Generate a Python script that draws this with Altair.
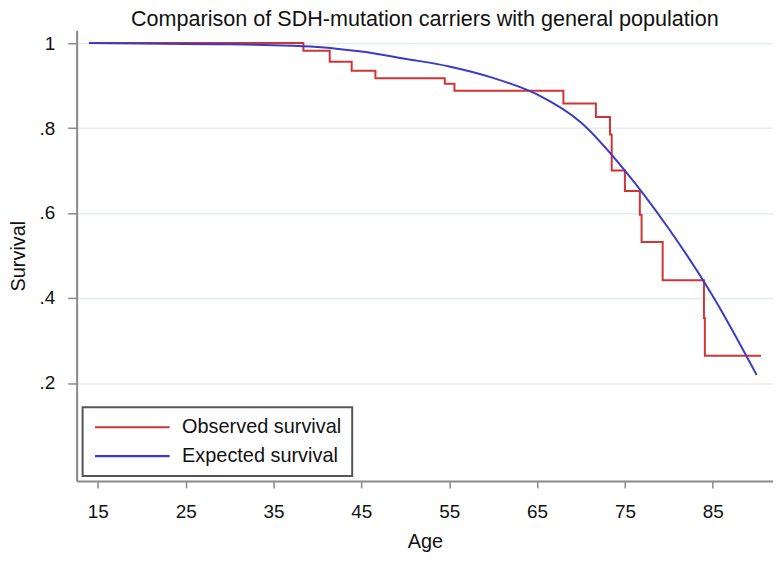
import altair as alt
import pandas as pd

# Observed (Kaplan-Meier style step) survival
obs_age = [14, 38.4, 41.4, 43.9, 46.6, 54.5, 55.6, 68.0, 71.7, 73.3, 73.5, 75.0,
           76.7, 76.9, 79.3, 84.0, 84.1, 90.5]
obs_surv = [1.0, 0.982, 0.956, 0.935, 0.917, 0.904, 0.888, 0.858, 0.826, 0.785,
            0.700, 0.652, 0.596, 0.532, 0.442, 0.353, 0.264, 0.264]

# Expected survival (general population)
exp_age = [14, 20, 25, 30, 35, 40, 45, 50, 55, 60, 65, 70, 75, 80, 85, 90]
exp_surv = [1.0, 0.999, 0.998, 0.997, 0.995, 0.991, 0.980, 0.963, 0.945, 0.918,
            0.879, 0.813, 0.700, 0.563, 0.405, 0.219]

series = ["Observed survival", "Expected survival"]
colors = ["#d03535", "#3a3ac8"]

x_ticks = [15, 25, 35, 45, 55, 65, 75, 85]
y_ticks = [0.2, 0.4, 0.6, 0.8, 1.0]

FONT = "Liberation Sans"

df_obs = pd.DataFrame({"age": obs_age, "surv": obs_surv, "series": series[0]})
df_exp = pd.DataFrame({"age": exp_age, "surv": exp_surv, "series": series[1]})

x_enc = alt.X(
    "age:Q",
    scale=alt.Scale(domain=[12.59, 91.86], nice=False, zero=False),
    axis=alt.Axis(
        values=x_ticks, title="Age", grid=False,
        domainColor="#8a8a8a", domainWidth=2,
        tickColor="#8a8a8a", tickWidth=1.5, tickSize=7,
        labelPadding=15, labelFontSize=19, labelFont=FONT, labelColor="#111",
        titleFontSize=20, titleFont=FONT, titleFontWeight="normal", titleColor="#111",
        titleX=350, titleY=67, titleAlign="center", titleBaseline="alphabetic",
    ),
)
y_enc = alt.Y(
    "surv:Q",
    scale=alt.Scale(domain=[-0.0305, 1.030], nice=False, zero=False),
    axis=alt.Axis(
        values=y_ticks, title="Survival", grid=True,
        gridColor="#e4edf1", gridWidth=1.5,
        labelExpr="datum.value == 1 ? '1' : substring(format(datum.value, '.1f'), 1)",
        domainColor="#8a8a8a", domainWidth=2,
        tickColor="#8a8a8a", tickWidth=1.5, tickSize=9,
        labelPadding=13, labelFontSize=19, labelFont=FONT, labelColor="#111",
        labelBaseline="middle",
        titleFontSize=20, titleFont=FONT, titleFontWeight="normal", titleColor="#111",
        titleX=-58, titleY=226.5, titleAlign="center", titleBaseline="middle",
        titleAngle=270,
    ),
)
color_enc = alt.Color(
    "series:N",
    scale=alt.Scale(domain=series, range=colors),
    legend=alt.Legend(
        title=None, orient="none", legendX=6, legendY=379,
        symbolType="M-1,0H9", symbolSize=225, symbolStrokeWidth=2.2,
        labelOffset=70, labelFontSize=20, labelFont=FONT, labelColor="#111",
        rowPadding=9, padding=10, strokeColor="#555555", fillColor="white",
        labelLimit=400,
    ),
)

red = alt.Chart(df_obs).mark_line(interpolate="step-after", strokeWidth=2).encode(
    x=x_enc, y=y_enc, color=color_enc
)
blue = alt.Chart(df_exp).mark_line(interpolate="monotone", strokeWidth=2).encode(
    x=x_enc, y=y_enc, color=color_enc
)

chart = (
    alt.layer(red, blue)
    .properties(
        width=700, height=453,
        autosize=alt.AutoSizeParams(type="none"),
        padding={"left": 69, "top": 21, "right": 0, "bottom": 72},
        title=alt.TitleParams(
            text="Comparison of SDH-mutation carriers with general population",
            fontSize=21.7, font=FONT, fontWeight="normal", color="#111",
            anchor="middle", offset=6, baseline="bottom", dy=28,
        ),
    )
    .configure_view(stroke=None)
    .configure_legend(strokeWidth=2)
)

chart.save("out.html", embed_options={"renderer": "svg", "actions": False})
